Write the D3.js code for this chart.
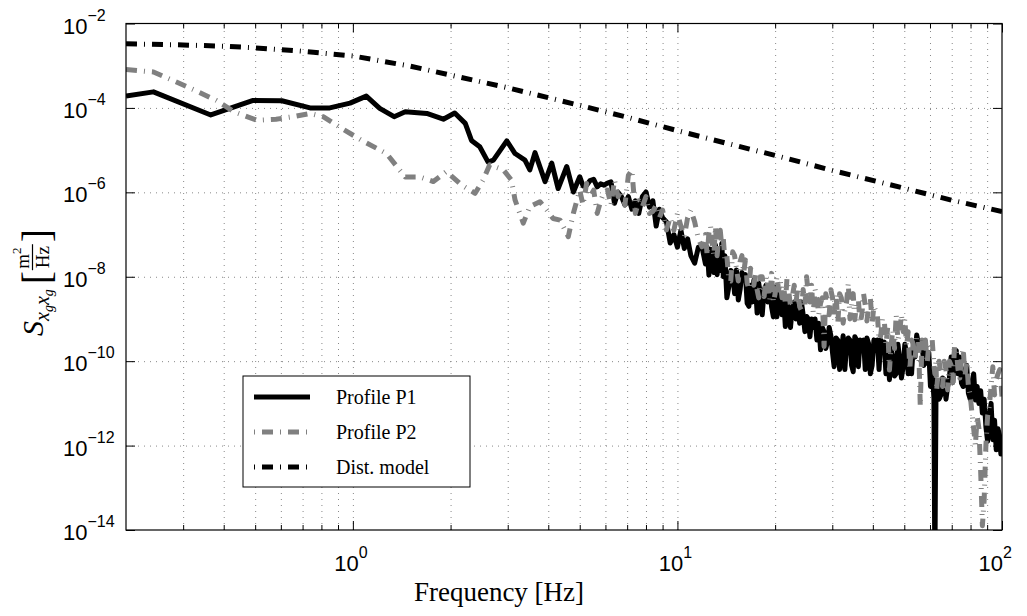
<!DOCTYPE html>
<html>
<head>
<meta charset="utf-8">
<script src="https://cdn.jsdelivr.net/npm/d3@7"></script>
<style>
  body { margin: 0; background: #fff; }
  svg { display: block; }
</style>
</head>
<body>
<div id="chart"></div>
<script>
// ---- data (PSD in m^2/Hz) ----
// low-frequency part, below 5 Hz
var p1LowFreq = [0.2, 0.243, 0.365, 0.493, 0.604, 0.738, 0.849, 0.98, 1.10, 1.21,
  1.34, 1.45, 1.69, 1.90, 2.06, 2.22, 2.32, 2.46, 2.61, 2.71,
  2.98, 3.16, 3.39, 3.51, 3.64, 3.91, 4.10, 4.29, 4.56, 4.78];
var p1LowPsd = [1.9e-4, 2.4e-4, 6.8e-5, 1.5e-4, 1.48e-4, 1.0e-4, 1.0e-4, 1.3e-4, 1.9e-4, 9.8e-5,
  6.2e-5, 8.1e-5, 7.4e-5, 5.4e-5, 7.6e-5, 4.3e-5, 1.7e-5, 1.2e-5, 5.2e-6, 5.8e-6,
  1.66e-5, 8.3e-6, 5.8e-6, 3.4e-6, 8.7e-6, 1.8e-6, 4.9e-6, 1.23e-6, 4.1e-6, 1.02e-6];

var p2LowFreq = [0.2, 0.243, 0.308, 0.38, 0.43, 0.506, 0.58, 0.655, 0.738, 0.81,
  0.91, 1.08, 1.27, 1.45, 1.61, 1.77, 1.94, 2.16, 2.38, 2.52,
  2.64, 2.91, 3.08, 3.16, 3.35, 3.51, 3.77, 3.96, 4.14, 4.35,
  4.61, 4.78];
var p2LowPsd = [8.1e-4, 7.1e-4, 3.2e-4, 1.5e-4, 8.1e-5, 5.1e-5, 5.4e-5, 6.2e-5, 7.4e-5, 6.2e-5,
  3.5e-5, 1.6e-5, 8.3e-6, 2.3e-6, 2.3e-6, 1.8e-6, 3.1e-6, 1.5e-6, 9.5e-7, 1.95e-6,
  4.5e-6, 3.4e-6, 1.95e-6, 6.6e-7, 1.86e-7, 4.6e-7, 6.0e-7, 3.8e-7, 2.4e-7, 2.2e-7,
  8.9e-8, 3.2e-7];

// noisy part, 5..100 Hz, shared frequency grid; values are log10 of the PSD
var noiseFreq = [5.0, 5.12, 5.25, 5.38, 5.52, 5.66, 5.8, 5.94, 6.09, 6.24,
  6.4, 6.56, 6.72, 6.89, 7.06, 7.24, 7.42, 7.6, 7.8, 8.0,
  8.2, 8.4, 8.6, 8.8, 9.0, 9.25, 9.5, 9.75, 10.0, 10.25,
  10.5, 10.75, 11.0, 11.3, 11.6, 11.9,
  12.2, 12.35, 12.5, 12.65, 12.8, 12.95, 13.1, 13.25, 13.4, 13.55,
  13.7, 13.85, 14.0, 14.2, 14.4, 14.6, 14.8, 15.0, 15.2, 15.4,
  15.6, 15.8, 16.0, 16.2, 16.4, 16.6, 16.8, 17.0, 17.2, 17.4,
  17.6, 17.8, 18.0, 18.25, 18.5, 18.75, 19.0, 19.25, 19.5, 19.75,
  20.0, 20.25, 20.5, 20.75, 21.0, 21.25, 21.5, 21.75, 22.0, 22.3,
  22.6, 22.9, 23.2, 23.5, 23.8, 24.1, 24.4, 24.7, 25.0, 25.3,
  25.6, 25.9, 26.2, 26.55, 26.9, 27.25, 27.6, 27.95, 28.3, 28.65,
  29.0, 29.35, 29.7, 30.05, 30.4, 30.8, 31.2, 31.6, 32.0, 32.4,
  32.8, 33.2, 33.6, 34.0, 34.4, 34.8, 35.2, 35.65, 36.1, 36.55,
  37.0, 37.45, 37.9, 38.35, 38.8, 39.3, 39.8, 40.3, 40.8, 41.3,
  41.8, 42.3, 42.8, 43.35, 43.9, 44.45, 45.0, 45.55, 46.1, 46.65,
  47.2, 47.8, 48.4, 49.0, 49.6, 50.2, 50.8, 51.4, 52.0, 52.65,
  53.3, 53.95, 54.6, 55.3, 56.0, 56.7, 57.4, 58.1, 58.8, 59.5,
  60.2, 60.95, 61.7, 62.1, 62.6, 62.9, 63.2, 64.0, 64.8, 65.6,
  66.4, 67.2, 68.0, 68.85, 69.7, 70.55, 71.4, 72.3, 73.2, 74.1,
  75.0, 75.95, 76.9, 77.85, 78.8, 79.8, 80.8, 81.8, 82.8, 83.85,
  84.9, 85.95, 87.0, 88.1, 89.2, 90.3, 91.4, 92.55, 93.7, 94.85,
  96.0, 97.2, 98.4, 99.2, 100];
var p1NoiseExp = [-5.63, -5.85, -5.83, -5.72, -5.69, -5.87, -5.80, -5.83, -5.78, -5.75,
  -6.26, -6.0, -6.1, -6.3, -6.1, -6.4, -6.2, -6.5, -6.1, -5.99,
  -6.35, -6.2, -6.8, -6.4, -6.6, -6.7, -7.2, -7.0, -7.3, -6.9,
  -7.33, -7.1, -7.5, -7.68, -7.3, -7.29,
  -7.7, -7.3, -7.96, -7.35, -7.5, -7.9, -7.25, -7.95, -7.6, -7.85,
  -7.21, -8.0, -7.5, -8.5, -8.24, -7.85, -7.9, -8.4, -7.84, -8.55,
  -8.3, -7.9, -8.0, -7.95, -8.63, -8.7, -8.2, -8.6, -8.08, -8.2,
  -8.86, -8.15, -8.4, -8.9, -8.31, -8.2, -8.6, -8.2, -8.71, -8.95,
  -8.24, -8.95, -8.6, -8.4, -8.9, -8.5, -9.18, -8.6, -8.8, -9.2,
  -8.71, -8.6, -9.0, -8.7, -9.1, -8.6, -8.9, -9.3, -8.94, -9.0,
  -9.42, -9.0, -9.2, -9.0, -9.5, -9.1, -9.73, -9.2, -9.3, -9.7,
  -9.54, -9.2, -9.4, -9.8, -10.13, -9.45, -9.5, -10.2, -9.8, -9.4,
  -10.2, -9.6, -9.45, -9.5, -10.1, -10.25, -9.42, -9.5, -10.13, -9.5,
  -9.6, -9.5, -10.2, -9.45, -9.58, -10.3, -10.1, -9.5, -9.7, -9.5,
  -10.2, -9.5, -9.65, -9.55, -10.3, -9.6, -10.44, -9.7, -9.9, -10.35,
  -10.3, -9.6, -9.97, -10.4, -10.13, -9.6, -9.8, -10.3, -10.05, -10.3,
  -9.6, -9.9, -9.38, -9.6, -9.73, -9.55, -10.1, -9.7, -10.05, -9.8,
  -10.6, -10.2, -10.88, -15, -10.9, -10.45, -10.5, -10.9, -10.8, -10.4,
  -10.44, -10.9, -10.6, -10.4, -9.9, -10.5, -9.77, -9.75, -10.3, -9.9,
  -10.52, -10.6, -10.2, -10.1, -10.76, -10.9, -10.5, -10.3, -10.92, -10.6,
  -11.0, -10.7, -11.23, -10.9, -11.55, -11.9, -11.3, -11.0, -11.86, -11.4,
  -12.1, -11.6, -11.78, -12.2, -12.0];
var p2NoiseExp = [-5.95, -6.3, -5.79, -6.1, -5.95, -6.5, -6.2, -6.0, -5.95, -6.3,
  -5.71, -6.1, -5.95, -6.3, -5.6, -5.47, -6.5, -6.2, -6.34, -6.1,
  -6.5, -6.45, -6.3, -6.6, -6.42, -6.89, -6.6, -6.9, -6.5, -6.8,
  -7.05, -6.6, -6.42, -6.7, -7.1, -7.29,
  -7.0, -7.5, -6.97, -6.8, -7.2, -7.5, -6.81, -7.5, -7.1, -6.9,
  -7.29, -7.1, -7.6, -7.5, -8.08, -8.1, -7.41, -7.5, -7.8, -8.1,
  -7.64, -7.5, -7.9, -7.6, -8.15, -8.3, -7.8, -7.9, -8.2, -7.95,
  -8.31, -8.5, -8.0, -8.0, -8.47, -8.0, -8.2, -8.55, -7.92, -8.6,
  -8.4, -8.0, -8.31, -8.1, -8.5, -8.2, -8.63, -8.05, -8.3, -8.7,
  -8.47, -8.2, -8.6, -8.25, -8.71, -8.8, -8.3, -8.7, -8.0, -8.4,
  -8.6, -8.2, -8.86, -8.3, -8.5, -8.9, -8.63, -8.5, -9.65, -8.4,
  -8.6, -8.9, -8.31, -8.5, -8.9, -8.4, -9.1, -8.4, -8.5, -9.1,
  -8.8, -8.6, -8.15, -9.0, -8.7, -8.4, -9.02, -8.6, -8.55, -9.1,
  -8.9, -8.4, -8.67, -9.05, -8.7, -8.5, -9.1, -8.7, -8.8, -8.9,
  -9.5, -9.4, -9.0, -9.0, -9.6, -9.2, -10.21, -9.6, -9.26, -9.7,
  -8.9, -9.5, -9.3, -8.9, -9.3, -9.0, -9.65, -9.3, -10.21, -9.5,
  -9.6, -10.0, -9.42, -9.5, -11.07, -9.5, -9.8, -9.5, -10.05, -9.6,
  -9.65, -9.5, -10.1, -10.3, -10.0, -10.7, -10.5, -10.0, -10.28, -10.6,
  -10.0, -10.2, -10.68, -10.0, -10.1, -10.5, -9.65, -9.7, -10.2, -10.4,
  -9.9, -9.7, -10.36, -10.0, -10.6, -10.8, -11.23, -11.6, -12.0, -11.3,
  -11.6, -12.6, -13.9, -13.3, -12.0, -11.3, -11.07, -10.6, -10.13, -10.8,
  -10.44, -10.3, -10.2, -10.5, -10.84];

var distFreq = [0.2, 0.3, 0.4, 0.5, 0.7, 1, 1.5, 2, 3, 5, 7, 10, 15, 20, 30, 50, 70, 100];
var distPsd = [3.3e-3, 3.1e-3, 2.9e-3, 2.65e-3, 2.2e-3, 1.7e-3, 9.8e-4, 6.0e-4, 3.0e-4, 1.15e-4,
  6.0e-5, 2.9e-5, 1.3e-5, 7.5e-6, 3.3e-6, 1.25e-6, 6.5e-7, 3.5e-7];

var xMajorExp = [0, 1, 2];
var yMajorExp = [-2, -4, -6, -8, -10, -12, -14];
var xMinor = [0.3, 0.4, 0.5, 0.6, 0.7, 0.8, 0.9, 2, 3, 4, 5, 6, 7, 8, 9, 20, 30, 40, 50, 60, 70, 80, 90];
var legendLabels = ["Profile P1", "Profile P2", "Dist. model"];

// ---- layout ----
var W = 1027, H = 616;
var L = 126, R = 1002, T = 23.5, B = 530;
var SANS = "'Liberation Sans', Arial, sans-serif";
var SERIF = "'Liberation Serif', 'Times New Roman', serif";

var svg = d3.select('#chart').append('svg')
    .attr('width', W).attr('height', H);
svg.append('rect').attr('width', W).attr('height', H).attr('fill', '#fff');

var x = d3.scaleLog().domain([0.2, 100]).range([L, R]);
var y = d3.scaleLog().domain([1e-14, 1e-2]).range([B, T]);

var xMajor = xMajorExp.map(function(e){ return Math.pow(10, e); });
var yMajor = yMajorExp.map(function(e){ return Math.pow(10, e); });

// grid (dotted)
var gx = svg.append('g').attr('transform', 'translate(0,' + B + ')')
    .call(d3.axisBottom(x).tickValues(xMinor.concat([1, 10])).tickSize(-(B - T)).tickFormat(''));
var gy = svg.append('g').attr('transform', 'translate(' + L + ',0)')
    .call(d3.axisLeft(y).tickValues(yMajor.slice(1, -1)).tickSize(-(R - L)).tickFormat(''));
[gx, gy].forEach(function(g){
    g.select('.domain').remove();
    g.selectAll('line').attr('stroke', '#888').attr('stroke-width', 1).attr('stroke-dasharray', '1,5');
});

// series
svg.append('clipPath').attr('id', 'plotclip')
    .append('rect').attr('x', L).attr('y', T).attr('width', R - L).attr('height', B - T);

var line = d3.line()
    .x(function(d){ return x(d[0]); })
    .y(function(d){ return y(d[1]); });

function zip(f, v) { return f.map(function(fi, i){ return [fi, v[i]]; }); }
function zipExp(f, e) { return f.map(function(fi, i){ return [fi, Math.pow(10, e[i])]; }); }

var series = [
    {pts: zip(p1LowFreq, p1LowPsd).concat(zipExp(noiseFreq, p1NoiseExp)), color: '#000', dash: null},
    {pts: zip(p2LowFreq, p2LowPsd).concat(zipExp(noiseFreq, p2NoiseExp)), color: '#808080', dash: '11,7,1,7'},
    {pts: zip(distFreq, distPsd), color: '#000', dash: '11,7,1,7'}
];

var plot = svg.append('g').attr('clip-path', 'url(#plotclip)');
series.forEach(function(s){
    plot.append('path').datum(s.pts)
        .attr('d', line)
        .attr('fill', 'none')
        .attr('stroke', s.color)
        .attr('stroke-width', 5)
        .attr('stroke-linejoin', 'round')
        .attr('stroke-dasharray', s.dash);
});

// ticks (inward) on all four sides
function ticks(axis, tr, vals, size) {
    var g = svg.append('g').attr('transform', tr)
        .call(axis.tickValues(vals).tickSize(size).tickFormat(''));
    g.select('.domain').remove();
    g.selectAll('line').attr('stroke', '#000').attr('stroke-width', 1);
}
ticks(d3.axisBottom(x), 'translate(0,' + B + ')', xMinor, -5);
ticks(d3.axisBottom(x), 'translate(0,' + B + ')', xMajor, -9);
ticks(d3.axisTop(x), 'translate(0,' + T + ')', xMinor, -5);
ticks(d3.axisTop(x), 'translate(0,' + T + ')', xMajor, -9);
ticks(d3.axisLeft(y), 'translate(' + L + ',0)', yMajor, -9);
ticks(d3.axisRight(y), 'translate(' + R + ',0)', yMajor, -9);

svg.append('rect').attr('x', L).attr('y', T).attr('width', R - L).attr('height', B - T)
    .attr('fill', 'none').attr('stroke', '#000').attr('stroke-width', 1.2);

// tick labels 10^n
xMajorExp.forEach(function(e, i){
    var last = i === xMajorExp.length - 1;
    var t = svg.append('text')
        .attr('x', last ? R + 10 : x(Math.pow(10, e)) - 2).attr('y', 571)
        .attr('text-anchor', last ? 'end' : 'middle')
        .attr('font-family', SANS).attr('font-size', 22);
    t.append('tspan').text('10');
    t.append('tspan').attr('font-size', 16).attr('dy', -13).text(e);
});
yMajorExp.forEach(function(e){
    var t = svg.append('text').attr('x', 63).attr('y', y(Math.pow(10, e)) + 10)
        .attr('font-family', SANS).attr('font-size', 22);
    t.append('tspan').text('10');
    t.append('tspan').attr('font-size', 16).attr('dy', -13).text('\u2212' + (-e));
});

// axis labels
svg.append('text').attr('x', 499).attr('y', 601).attr('text-anchor', 'middle')
    .attr('font-family', SERIF).attr('font-size', 27).text('Frequency [Hz]');

var yl = svg.append('g').attr('transform', 'translate(43,336) rotate(-90)')
    .attr('font-family', SERIF);
var st = yl.append('text').attr('x', 0).attr('y', 0).attr('font-size', 30).attr('font-style', 'italic');
st.append('tspan').text('S');
st.append('tspan').attr('font-size', 20).attr('dy', 6).text('x');
st.append('tspan').attr('font-size', 14).attr('dy', 4).text('g');
st.append('tspan').attr('font-size', 20).attr('dy', -4).text('x');
st.append('tspan').attr('font-size', 14).attr('dy', 4).text('g');
var sw = st.node().getComputedTextLength();
var bx = sw + 5;
yl.append('text').attr('x', bx).attr('y', 7).attr('font-size', 40).text('[');
var fx = bx + 14, fw = 24;
var num = yl.append('text').attr('x', fx + fw / 2).attr('y', -14).attr('text-anchor', 'middle').attr('font-size', 19);
num.append('tspan').text('m');
num.append('tspan').attr('font-size', 13).attr('dy', -8).text('2');
yl.append('line').attr('x1', fx).attr('x2', fx + fw + 2).attr('y1', -10.5).attr('y2', -10.5)
    .attr('stroke', '#000').attr('stroke-width', 1.2);
yl.append('text').attr('x', fx + fw / 2 + 1).attr('y', 6).attr('text-anchor', 'middle').attr('font-size', 19).text('Hz');
yl.append('text').attr('x', fx + fw + 4).attr('y', 7).attr('font-size', 40).text(']');

// legend
var lg = svg.append('g');
lg.append('rect').attr('x', 243).attr('y', 376).attr('width', 227).attr('height', 111)
    .attr('fill', '#fff').attr('stroke', '#000').attr('stroke-width', 1);
series.forEach(function(s, i){
    var cy = 397 + i * 35;
    lg.append('line').attr('x1', 254).attr('x2', 310).attr('y1', cy).attr('y2', cy)
        .attr('stroke', s.color).attr('stroke-width', 5)
        .attr('stroke-dasharray', s.dash ? '1,7,11,7' : null);
    lg.append('text').attr('x', 336).attr('y', cy + 7)
        .attr('font-family', SERIF).attr('font-size', 20).text(legendLabels[i]);
});
</script>
</body>
</html>
